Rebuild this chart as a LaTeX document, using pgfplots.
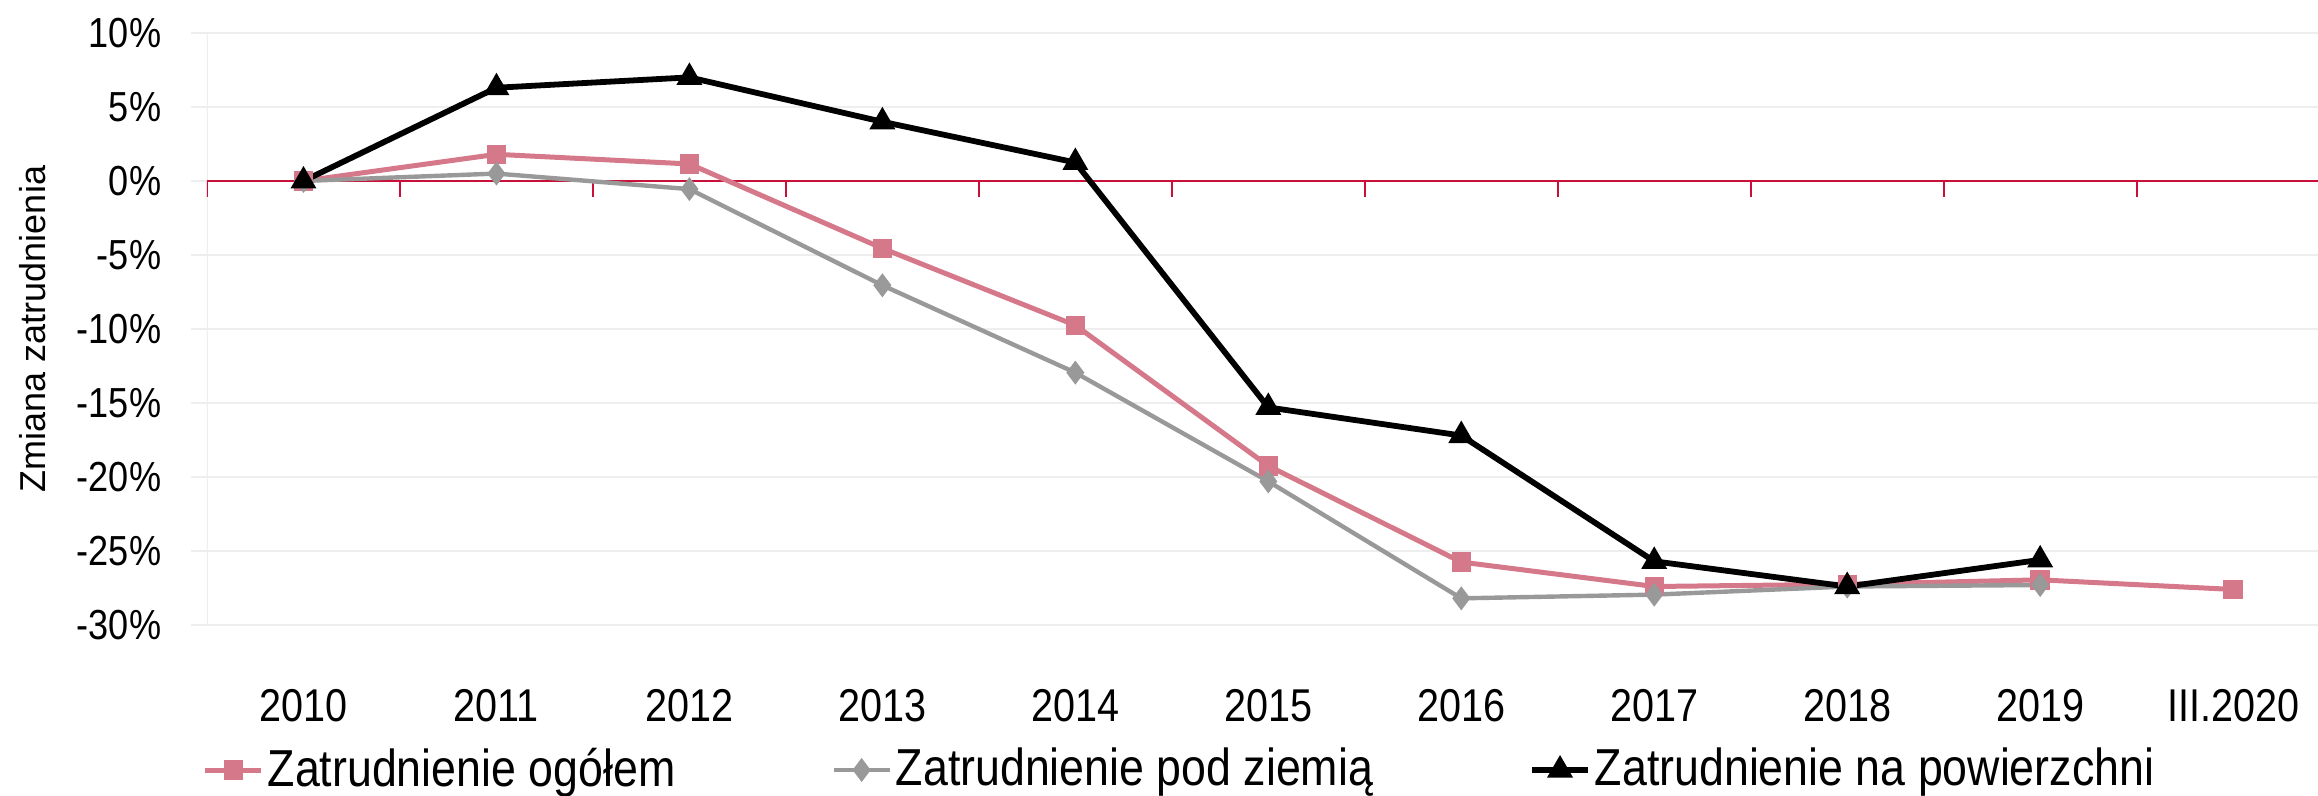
\documentclass[border=0pt]{standalone}
\usepackage{fontspec}
\setmainfont{Liberation Sans}
\newfontfamily\condfont{Liberation Sans}[FakeStretch=0.86]
\usepackage{pgfplots}
\pgfplotsset{compat=1.18}
\definecolor{pinkc}{RGB}{212,120,138}
\definecolor{grayc}{RGB}{153,153,153}
\definecolor{gridc}{RGB}{238,238,238}
\definecolor{zeroc}{RGB}{200,16,56}
\begin{document}
\begin{tikzpicture}
\begin{axis}[name=ax, scale only axis, width=527.75pt, height=148pt,
  xmin=-0.5, xmax=10.44, ymin=-30, ymax=10,
  xtick={0,1,2,3,4,5,6,7,8,9,10},
  xticklabels={2010,2011,2012,2013,2014,2015,2016,2017,2018,2019,III.2020},
  ytick={-30,-25,-20,-15,-10,-5,0,5,10},
  yticklabels={-30\%,-25\%,-20\%,-15\%,-10\%,-5\%,0\%,5\%,10\%},
  axis line style={draw=none},
  x tick style={draw=none},
  y tick style={gridc, line width=0.5pt},
  tick align=outside, major tick length=4pt,
  ymajorgrids, major grid style={gridc, line width=0.5pt},
  xticklabel style={font=\condfont\fontsize{11.5}{13}\selectfont, anchor=north, inner sep=0pt, yshift=-12pt},
  yticklabel style={font=\condfont\fontsize{10.5}{12}\selectfont, anchor=east, inner sep=0pt, xshift=-7.25pt},
  ylabel={Zmiana zatrudnienia},
  ylabel style={font=\fontsize{9}{11}\selectfont, at={(rel axis cs:-0.0824,0.5)}, anchor=center},
  legend columns=3,
  legend style={draw=none, fill=none, at={(-0.0024,-0.245)}, anchor=west, inner sep=0pt,
    font=\condfont\fontsize{13}{15}\selectfont,
    nodes={inner sep=1pt},
    /tikz/every even column/.append style={column sep=38pt}},
  legend image code/.code={\draw[mark repeat=2,mark phase=2,#1] plot coordinates {(0pt,0pt) (7pt,0pt) (14pt,0pt)};},
]
\draw[gridc, line width=0.5pt] (axis cs:-0.5,-30) -- (axis cs:-0.5,10);
\draw[zeroc, line width=0.5pt] (axis cs:-0.5,0) -- (axis cs:10.44,0);
\pgfplotsinvokeforeach{-0.5,0.5,1.5,2.5,3.5,4.5,5.5,6.5,7.5,8.5,9.5}{
  \draw[zeroc, line width=0.5pt] (axis cs:#1,0) -- ++(0pt,-4pt);
}
\addplot[pinkc, line width=1.25pt, mark=square*, mark size=1.8pt, mark options={solid, fill=pinkc}]
  coordinates {(0,0) (1,1.8) (2,1.15) (3,-4.55) (4,-9.75) (5,-19.25) (6,-25.75) (7,-27.4) (8,-27.25) (9,-26.95) (10,-27.6)};
\addlegendentry{Zatrudnienie ogółem}
\addplot[grayc, line width=1.1pt, mark=diamond*, mark size=2.1pt, mark options={solid, fill=grayc}]
  coordinates {(0,0) (1,0.5) (2,-0.55) (3,-7.05) (4,-12.95) (5,-20.3) (6,-28.2) (7,-27.95) (8,-27.4) (9,-27.3)};
\addlegendentry{Zatrudnienie pod ziemią}
\addplot[black, line width=1.45pt, mark=triangle*, mark size=2.3pt, mark options={solid, fill=black}]
  coordinates {(0,0) (1,6.3) (2,7.0) (3,4.0) (4,1.25) (5,-15.3) (6,-17.2) (7,-25.7) (8,-27.4) (9,-25.6)};
\addlegendentry{Zatrudnienie na powierzchni}
\end{axis}
\pgfresetboundingbox
\path ([shift={(-51.75pt,-42.75pt)}]ax.south west) rectangle ([shift={(0pt,8.25pt)}]ax.north east);
\end{tikzpicture}
\end{document}
